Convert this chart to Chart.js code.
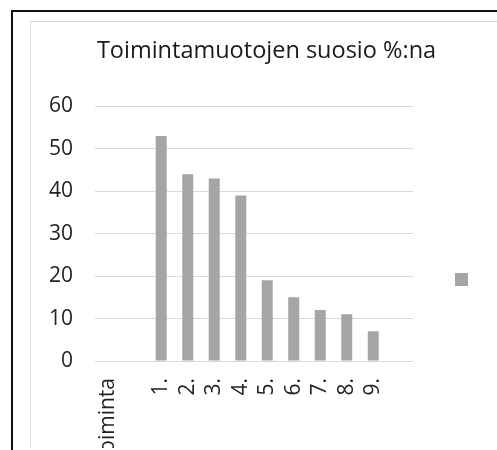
<!DOCTYPE html>
<html>
<head>
<meta charset="utf-8">
<script src="https://cdn.jsdelivr.net/npm/chart.js@4"></script>
<style>
  html, body { margin: 0; padding: 0; width: 497px; height: 450px; overflow: hidden; background: #fff; }
  #outer { position: absolute; left: 11px; top: 10px; width: 600px; height: 600px; border-left: 2px solid #111; border-top: 2px solid #111; }
  #inner { position: absolute; left: 30px; top: 21px; width: 600px; height: 426px; border-left: 1px solid #d9d9d9; border-top: 1px solid #d9d9d9; background: #fff; overflow: hidden; }
  #c { position: absolute; left: 0px; top: 0px; }
</style>
</head>
<body>
<div id="outer"></div>
<div id="inner"><canvas id="c" width="453" height="515"></canvas></div>
<script>
const titleText = 'Toimintamuotojen suosio %:na';
const categories = ['Toiminta', '', '1.', '2.', '3.', '4.', '5.', '6.', '7.', '8.', '9.', ''];
const values = [null, null, 53, 44, 43, 39, 19, 15, 12, 11, 7, null];
const yTicks = [0, 10, 20, 30, 40, 50, 60];

const FONT = '"Open Sans", "Noto Sans", sans-serif';

new Chart(document.getElementById('c'), {
  type: 'bar',
  data: {
    labels: categories,
    datasets: [{
      label: '',
      data: values,
      backgroundColor: '#a5a5a5',
      borderWidth: 0,
      barPercentage: 0.415,
      categoryPercentage: 1.0
    }]
  },
  options: {
    responsive: false,
    devicePixelRatio: 1,
    animation: false,
    layout: { padding: { left: 18, right: 0, top: 0, bottom: 0 } },
    plugins: {
      title: {
        display: true,
        text: titleText,
        color: '#1a1a1a',
        font: { family: FONT, size: 23.5, weight: 'normal' },
        padding: { top: 15, bottom: 41 }
      },
      legend: {
        display: true,
        position: 'right',
        labels: { boxWidth: 13, boxHeight: 13, padding: 42, font: { size: 12 } }
      },
      tooltip: { enabled: false }
    },
    scales: {
      x: {
        grid: { display: false, drawTicks: false },
        border: { display: false },
        ticks: {
          color: '#222',
          font: { family: FONT, size: 21 },
          minRotation: 90,
          maxRotation: 90,
          padding: 17,
          autoSkip: false
        },
        afterFit: (s) => { s.height = 176; }
      },
      y: {
        min: 0,
        max: 60,
        afterBuildTicks: (s) => { s.ticks = yTicks.map(v => ({ value: v })); },
        grid: { color: '#d9d9d9', lineWidth: 1, drawTicks: false },
        border: { display: false },
        ticks: {
          color: '#222',
          font: { family: FONT, size: 21 },
          padding: 22
        },
        afterFit: (s) => { s.width = 46; }
      }
    }
  }
});
</script>
</body>
</html>
